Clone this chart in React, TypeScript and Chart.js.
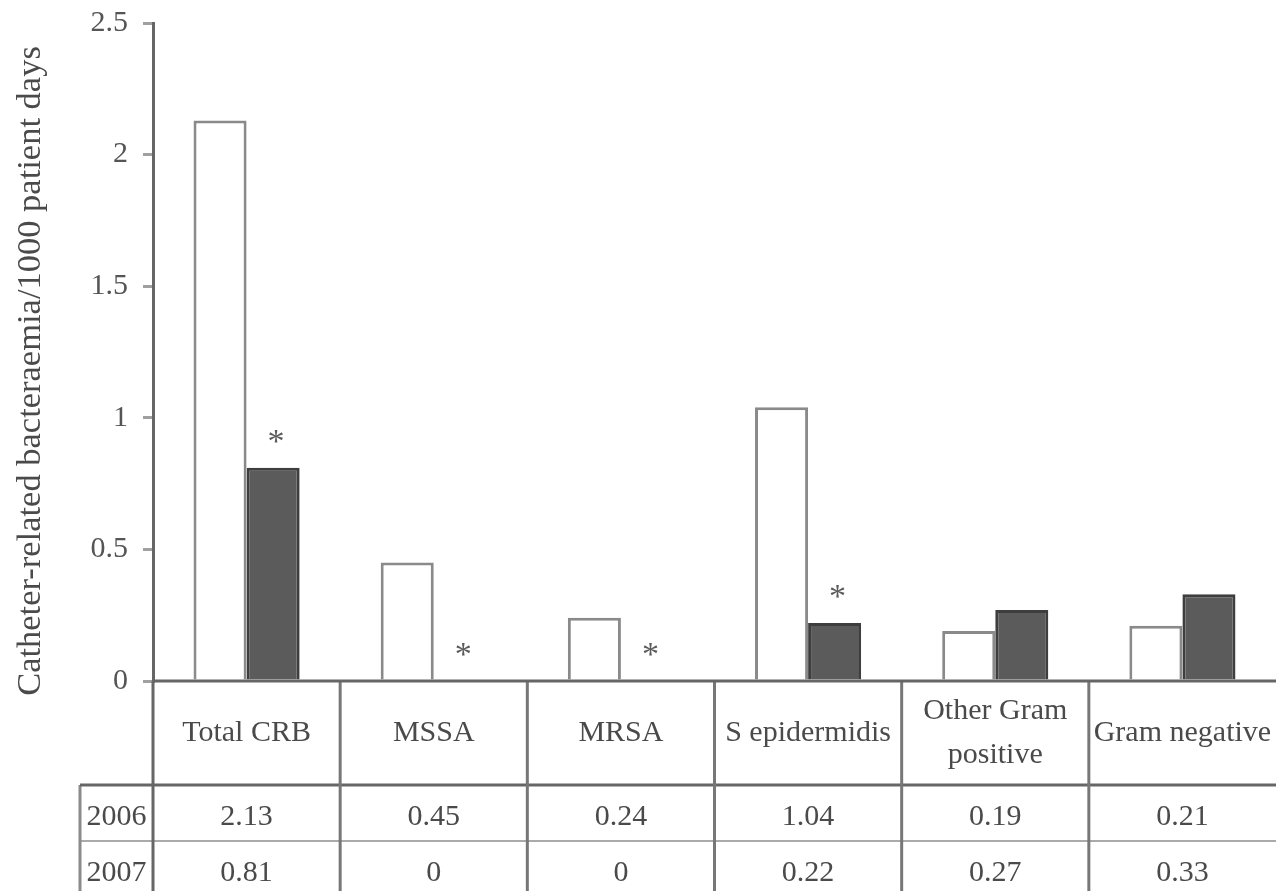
import { useEffect, useRef } from "react";
import { Chart, registerables } from "chart.js";

Chart.register(...registerables);

const categories: string[][] = [
  ["Total CRB"],
  ["MSSA"],
  ["MRSA"],
  ["S epidermidis"],
  ["Other Gram", "positive"],
  ["Gram negative"],
];
const seriesLabels = ["2006", "2007"];
const values2006 = [2.13, 0.45, 0.24, 1.04, 0.19, 0.21];
const values2007 = [0.81, 0, 0, 0.22, 0.27, 0.33];
const significant2007 = [true, true, true, true, false, false];
const yMin = 0;
const yMax = 2.5;
const yStep = 0.5;
const yTitle = "Catheter-related bacteraemia/1000 patient days";

const FONT = "'Liberation Serif', 'DejaVu Serif', serif";
const TEXT = "#4a4a4a";

const tablePlugin = {
  id: "tablePlugin",
  afterDraw(chart: any) {
    const { ctx, chartArea, scales } = chart;
    const x = scales.x;
    const y = scales.y;
    const n = categories.length;
    const half = (x.getPixelForValue(1) - x.getPixelForValue(0)) / 2;
    const y0 = y.getPixelForValue(0);
    const headerBottom = y0 + 104;
    const rowBottom = headerBottom + 56;
    const bottom = chart.height;
    const rowLeft = 80;
    const right = chart.width;

    ctx.save();
    // row divider (light)
    ctx.strokeStyle = "#aaaaaa";
    ctx.lineWidth = 2;
    ctx.beginPath();
    ctx.moveTo(rowLeft, rowBottom);
    ctx.lineTo(right, rowBottom);
    ctx.stroke();

    // left border of row-label column
    ctx.strokeStyle = "#8a8a8a";
    ctx.lineWidth = 3;
    ctx.beginPath();
    ctx.moveTo(rowLeft, headerBottom);
    ctx.lineTo(rowLeft, bottom);
    ctx.stroke();

    // header bottom line
    ctx.strokeStyle = "#666666";
    ctx.lineWidth = 3;
    ctx.beginPath();
    ctx.moveTo(rowLeft, headerBottom);
    ctx.lineTo(right, headerBottom);
    ctx.stroke();

    // vertical column lines
    for (let i = 0; i < n; i++) {
      const bx = x.getPixelForValue(i) - half;
      ctx.strokeStyle = i === 0 ? "#666666" : "#777777";
      ctx.beginPath();
      ctx.moveTo(bx, y0);
      ctx.lineTo(bx, bottom);
      ctx.stroke();
    }

    // x axis line
    ctx.strokeStyle = "#666666";
    ctx.lineWidth = 3;
    ctx.beginPath();
    ctx.moveTo(chartArea.left, y0);
    ctx.lineTo(right, y0);
    ctx.stroke();

    // header texts
    ctx.fillStyle = TEXT;
    ctx.textAlign = "center";
    ctx.textBaseline = "middle";
    ctx.font = `30px ${FONT}`;
    const headerMid = (y0 + headerBottom) / 2;
    categories.forEach((lines, i) => {
      const cx = x.getPixelForValue(i);
      const lh = 44;
      const startY = headerMid - ((lines.length - 1) * lh) / 2;
      lines.forEach((t, j) => ctx.fillText(t, cx, startY + j * lh));
    });

    // row texts
    ctx.font = `30px ${FONT}`;
    const rows = [values2006, values2007];
    const rowMids = [(headerBottom + rowBottom) / 2 + 4, (rowBottom + bottom) / 2 + 7];
    rows.forEach((vals, r) => {
      ctx.textAlign = "center";
      ctx.fillText(seriesLabels[r], (rowLeft + chartArea.left) / 2, rowMids[r]);
      vals.forEach((v, i) => {
        ctx.fillText(String(v), x.getPixelForValue(i), rowMids[r]);
      });
    });

    // significance asterisks
    const meta = chart.getDatasetMeta(1);
    ctx.font = `34px ${FONT}`;
    ctx.fillStyle = "#5a5a5a";
    ctx.textBaseline = "alphabetic";
    significant2007.forEach((s, i) => {
      if (!s) return;
      const bar = meta.data[i];
      const top = y.getPixelForValue(values2007[i]);
      ctx.fillText("*", bar.x + 3, top - 32 + 16);
    });

    // y axis title
    ctx.save();
    ctx.translate(31, 371);
    ctx.rotate(-Math.PI / 2);
    ctx.font = `34.5px ${FONT}`;
    ctx.fillStyle = TEXT;
    ctx.textAlign = "center";
    ctx.textBaseline = "middle";
    ctx.fillText(yTitle, 0, 0);
    ctx.restore();

    ctx.restore();
  },
};

export default function App() {
  const ref = useRef<HTMLCanvasElement | null>(null);
  useEffect(() => {
    if (!ref.current) return;
    const chart = new Chart(ref.current, {
      type: "bar",
      data: {
        labels: categories.map((c) => c.join(" ")),
        datasets: [
          {
            label: seriesLabels[0],
            data: values2006,
            backgroundColor: "#ffffff",
            borderColor: "#8a8a8a",
            borderWidth: 3,
            categoryPercentage: 0.567,
            barPercentage: 1.0,
          },
          {
            label: seriesLabels[1],
            data: values2007,
            backgroundColor: "#5b5b5b",
            borderColor: "#3e3e3e",
            borderWidth: 3,
            categoryPercentage: 0.567,
            barPercentage: 1.0,
          },
        ],
      },
      options: {
        animation: false,
        responsive: false,
        maintainAspectRatio: false,
        devicePixelRatio: 1,
        layout: { padding: { top: 23, bottom: 210, left: 0, right: 0 } },
        plugins: {
          legend: { display: false },
          tooltip: { enabled: false },
          title: { display: false },
        },
        scales: {
          x: { display: false },
          y: {
            min: yMin,
            max: yMax,
            ticks: {
              stepSize: yStep,
              font: { family: FONT, size: 30 },
              color: "#555555",
              padding: 15,
              callback: (v: any) => String(v),
            },
            grid: {
              drawOnChartArea: false,
              drawTicks: true,
              tickLength: 10,
              color: "#a0a0a0",
              lineWidth: 3,
            },
            border: { color: "#666666", width: 3 },
            afterFit: (s: any) => {
              s.width = 153;
              s.paddingTop = 0;
              s.paddingBottom = 0;
            },
          },
        },
      },
      plugins: [tablePlugin],
    });
    return () => chart.destroy();
  }, []);
  return (
    <div style={{ position: "absolute", left: 0, top: 0, width: 1276, height: 891, background: "#fff" }}>
      <canvas ref={ref} width={1276} height={891} />
    </div>
  );
}
